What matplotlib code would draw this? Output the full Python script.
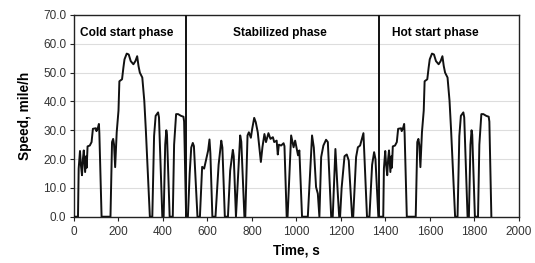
import numpy as np
from matplotlib import pyplot as pl
import matplotlib

matplotlib.rcParams.update({'font.family': ['Liberation Sans', 'DejaVu Sans'], 'font.size': 8})

# cold start phase (0-505 s)
coldTime = [0, 18, 21, 27, 31, 36, 40, 44, 50, 55, 57, 61, 71, 79, 85, 98, 101, 108, 112, 114, 124,
            164, 171, 176, 180, 185, 192, 200, 204, 216, 222, 227, 237, 246, 255, 267, 276, 284, 290,
            296, 307, 316, 323, 341, 352, 360, 367, 378, 382, 397, 403, 410, 415, 418, 430, 444, 450,
            459, 468, 481, 492, 495, 504]
coldSpeed = [0, 0, 16.7, 22.8, 18, 14.4, 20, 23, 15.5, 21, 17, 24.4, 24.7, 25.9, 30.5, 30.7, 29.7, 31, 32.2, 29, 0,
             0, 25.9, 27, 25, 17.2, 29.3, 36.8, 47, 47.7, 51.7, 54.6, 56.6, 56.3, 54, 52.9, 54, 55.7, 52.3,
             50, 48.3, 40.2, 30, 0, 0, 28, 35, 36.2, 34.5, 0, 0, 25, 30, 28.5, 0, 0, 25,
             35.6, 35.6, 35, 34.7, 33, 0]

# stabilized phase (505-1372 s)
stabTime = [505, 512, 520, 527, 534, 539, 555, 566, 576, 585, 597, 603, 609, 613, 622, 636, 650, 662, 667, 678,
            692, 702, 714, 718, 728, 747, 752, 766, 770, 780, 786, 795, 801, 810, 817, 826, 834, 840, 847,
            856, 863, 874, 883, 894, 900, 911, 916, 921, 931, 942, 946, 956, 960, 976, 987, 994, 1007,
            1013, 1025, 1051, 1070, 1078, 1088, 1096, 1103, 1111, 1121, 1133, 1141, 1156, 1163, 1175,
            1185, 1192, 1196, 1203, 1216, 1226, 1235, 1250, 1255, 1268, 1276, 1286, 1301, 1317, 1328,
            1340, 1349, 1355, 1368, 1372]
stabSpeed = [0, 0, 15, 24, 25.6, 24.5, 0, 0, 17.3, 16.7, 21, 23, 26.8, 22, 0, 0, 18, 26.4, 24, 0,
             0, 16, 23.2, 21, 0, 28.2, 26, 0, 0, 28.2, 29.3, 27.4, 30.5, 34.3, 32.8, 29.3, 23.6, 19, 24.1,
             28.7, 25.9, 29, 27, 27.6, 25.9, 26.4, 21.6, 25, 24.7, 25.5, 24.5, 0, 0, 28.2, 24.1, 26.4, 21.3,
             23, 0, 0, 28.2, 24, 10.3, 8, 0, 20.7, 24.7, 26.7, 25.9, 0, 0, 23.5,
             9, 0, 0, 10, 21, 21.6, 19.5, 0, 0, 20.7, 24.1, 24.7, 29, 0, 0,
             18, 22.4, 20, 0, 0]

hotOffset = 1372  # hot start phase repeats the cold start trace
phaseBounds = [505, 1372]
phaseNames = ['Cold start phase', 'Stabilized phase', 'Hot start phase']
phaseLabelX = [238, 925, 1625]

timeAll = np.concatenate([coldTime, stabTime, np.array(coldTime) + hotOffset])
speedAll = np.concatenate([coldSpeed, stabSpeed, coldSpeed])

fig = pl.figure(figsize=(5.35, 2.63), dpi=100)
ax = fig.add_axes([0.1383, 0.176, 0.8317, 0.767])

ax.plot(timeAll, speedAll, color='#111111', lw=1.4, zorder=3)
for b in phaseBounds:
  ax.axvline(b, color='#111111', lw=1.4, zorder=4)

for name, xp in zip(phaseNames, phaseLabelX):
  ax.text(xp, 63.6, name, ha='center', va='center', fontweight='bold', fontsize=8.6)

ax.set_xlim(0, 2000)
ax.set_ylim(0, 70)
ax.set_xticks(np.arange(0, 2001, 200))
ax.set_yticks(np.arange(0, 71, 10))
ax.set_yticklabels(['%.1f' % v for v in np.arange(0, 71, 10)])
ax.yaxis.grid(True, color='#dddddd', lw=0.8)
ax.set_axisbelow(True)
ax.tick_params(direction='out', length=3, width=0.8, color='#222222', labelcolor='#333333',
               labelsize=8.5, pad=2.5)
ax.tick_params(axis='x', pad=4)
for s in ax.spines.values():
  s.set_color('#222222')
  s.set_linewidth(1.0)

ax.set_xlabel('Time, s', fontweight='bold', fontsize=9.8, labelpad=4)
ax.set_ylabel('Speed, mile/h', fontweight='bold', fontsize=9.8, labelpad=8)

fig.savefig('out.png', dpi=100)
